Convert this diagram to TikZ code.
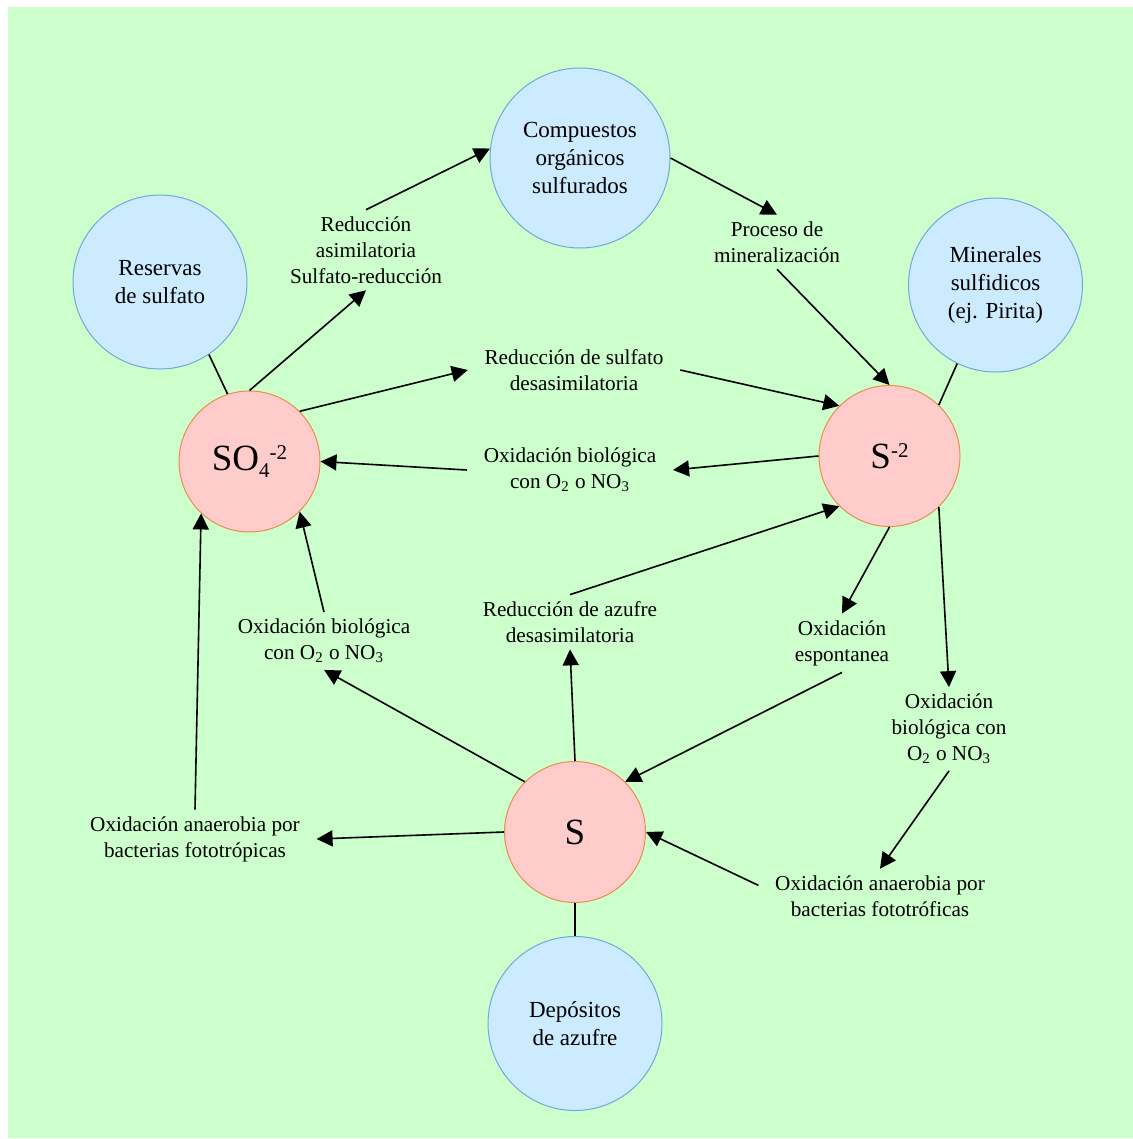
\documentclass[tikz,border=0pt]{standalone}
\usepackage{fontspec}
\setmainfont{Liberation Serif}
\usepackage{xcolor}
\usepackage{tikz}
\usetikzlibrary{positioning, shapes, arrows.meta}
\definecolor{palegreen}{HTML}{CCFFCC}
\definecolor{skyfill}{HTML}{CCEBFF}
\definecolor{skyline}{HTML}{6FA8DC}
\definecolor{rosefill}{HTML}{FFCCCC}
\definecolor{roseline}{HTML}{EE8A4E}
\newcommand{\chup}[1]{\raisebox{5.5pt}{\fontsize{10.5}{10.5}\selectfont #1}}
\newcommand{\chdn}[1]{\raisebox{-3.5pt}{\fontsize{10.5}{10.5}\selectfont #1}}
\newcommand{\oxno}{O\textsubscript{2} o NO\textsubscript{3}}
\tikzstyle{rv}=[%
      circle, draw=skyline, line width=0.5pt, fill=skyfill,
      minimum size=87pt, inner sep=0pt, align=center,
      font=\fontsize{11.5}{14}\selectfont
]
\tikzstyle{sp}=[%
      circle, draw=roseline, line width=0.5pt, fill=rosefill,
      minimum size=70.5pt, inner sep=0pt,
      font=\fontsize{18.5}{22}\selectfont
]
\tikzstyle{lb}=[%
      rectangle, draw=none, fill=none, align=center,
      inner xsep=8pt, inner ysep=3pt,
      font=\fontsize{10.6}{13}\selectfont
]
\begin{document}
\begin{tikzpicture}[x=0.5pt, y=-0.5pt,
    line width=0.8pt,
    -{Triangle[length=8pt,width=8pt]}
  ]
    \useasboundingbox (0,0) rectangle (1133,1139);
    \fill[palegreen] (8,7) rectangle (1133,1138);

    % sulfur species
    \node[sp] (so4) at (249.5,461.5) {SO\chdn{4}\chup{-2}};
    \node[sp] (s2)  at (889.5,456)   {S\chup{-2}};
    \node[sp] (s)   at (575,832)     {S};

    % reservoirs
    \node[rv]                    (res)  at (160,282)   {Reservas\\de sulfato};
    \node[rv, minimum size=90pt] (comp) at (580,158)   {Compuestos\\orgánicos\\sulfurados};
    \node[rv]                    (min)  at (995.5,285) {Minerales\\sulfidicos\\(ej. Pirita)};
    \node[rv]                    (dep)  [below = 16.5pt of s] {Depósitos\\de azufre};

    % processes
    \node[lb] (la)  at (366,250) {Reducción\\asimilatoria\\Sulfato-reducción};
    \node[lb] (lm)  at (777,242) {Proceso de\\mineralización};
    \node[lb] (ls)  at (574,370) {Reducción de sulfato\\desasimilatoria};
    \node[lb] (lom) at (570,470) {Oxidación biológica\\con \oxno};
    \node[lb] (lol) at (324,641) {Oxidación biológica\\con \oxno};
    \node[lb] (laz) at (570,622) {Reducción de azufre\\desasimilatoria};
    \node[lb] (les) at (842,643) {Oxidación\\espontanea};
    \node[lb] (lor) at (949,729) {Oxidación\\biológica con\\\oxno};
    \node[lb] (lal) at (195,839) {Oxidación anaerobia por\\bacterias fototrópicas};
    \node[lb] (lar) at (880,896) {Oxidación anaerobia por\\bacterias fototróficas};

    % links
    \draw[-] (res.-56) -- (so4.108);
    \draw[-] (min.-116) -- (s2.46);
    \draw[-] (s.south) -- (dep.north);

    \draw (so4.north) -- (la.south);
    \draw (la.north) -- (comp.174);
    \draw (comp.east) -- (lm.north);
    \draw (lm.south) -- (s2.north);
    \draw (so4.45) -- (ls.west);
    \draw (ls.east) -- (s2.135);
    \draw (s2.west) -- (lom.east);
    \draw (lom.west) -- (so4.east);
    \draw (laz.north) -- (s2.-135);
    \draw (s.north) -- (laz.south);
    \draw (s.135) -- (lol.south);
    \draw (lol.north) -- (so4.-45);
    \draw (s.west) -- (lal.east);
    \draw (lal.north) -- (so4.-133);
    \draw (s2.south) -- (les.north);
    \draw (les.south) -- (s.45);
    \draw (s2.-46) -- (lor.north);
    \draw (lor.south) -- (lar.north);
    \draw (lar.175) -- (s.east);

  \end{tikzpicture}
\end{document}
